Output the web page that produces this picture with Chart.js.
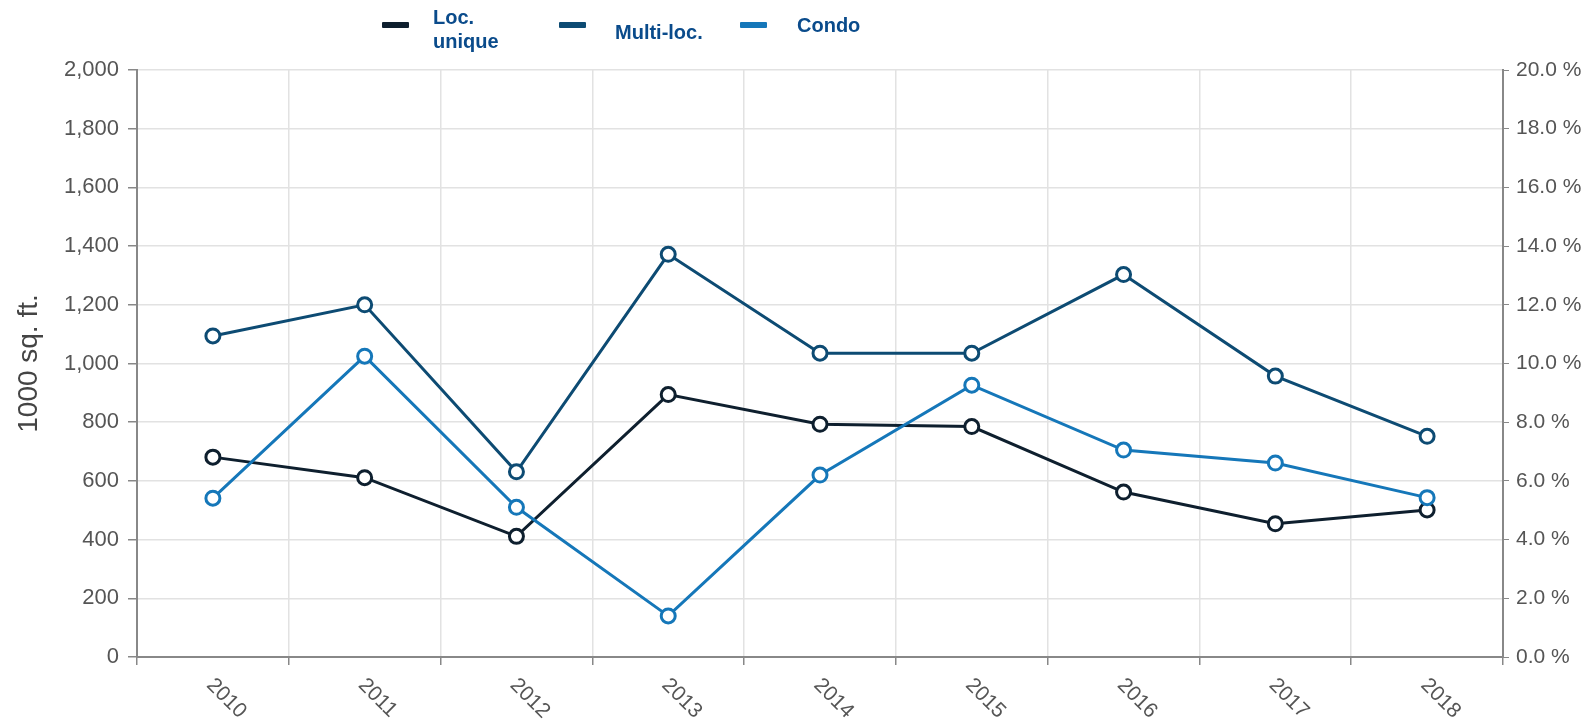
<!DOCTYPE html>
<html>
<head>
<meta charset="utf-8">
<script src="https://cdn.jsdelivr.net/npm/chart.js@4/dist/chart.umd.min.js"></script>
<style>
  html, body { margin: 0; padding: 0; background: #fff; }
  #wrap { position: relative; width: 1590px; height: 726px; font-family: "Liberation Sans", Arial, sans-serif; }
  #chart { position: absolute; left: 0; top: 0; }
  .lg-line { position: absolute; height: 6px; width: 27px; border-radius: 1px; }
  .lg-text { position: absolute; font-weight: bold; font-size: 20px; line-height: 24px; color: #0a4b8b; }
</style>
</head>
<body>
<div id="wrap">
  <canvas id="chart" width="1590" height="726"></canvas>
  <div id="legend"></div>
</div>
<script>
// data
const years = ['2010', '2011', '2012', '2013', '2014', '2015', '2016', '2017', '2018'];
const locUnique = [681, 611, 411, 894, 793, 785, 562, 454, 501];
const multiLoc = [1094, 1200, 631, 1372, 1035, 1035, 1303, 957, 752];
const condo = [541, 1025, 510, 140, 620, 926, 705, 661, 543];

const seriesNames = [['Loc.', 'unique'], ['Multi-loc.'], ['Condo']];
const seriesColors = ['#0e1f2e', '#0d4b73', '#1577b9'];

const leftMax = 2000;
const leftStep = 200;
const rightMax = 20;
const rightStep = 2;

// legend (html, fixed spots like the original)
const legendSpots = [
    { line: [382, 22], text: [433, 5] },
    { line: [559, 22], text: [615, 20] },
    { line: [740, 22], text: [797, 13] }
];
let lg = '';
seriesNames.forEach((name, i) => {
    const s = legendSpots[i];
    lg += `<div class="lg-line" style="left:${s.line[0]}px;top:${s.line[1]}px;background:${seriesColors[i]}"></div>`;
    lg += `<div class="lg-text" style="left:${s.text[0]}px;top:${s.text[1]}px">${name.join('<br>')}</div>`;
});
document.getElementById('legend').innerHTML = lg;

const xLabels = {
    id: 'xLabels',
    afterDraw(chart) {
        const sc = chart.scales.x;
        const ctx = chart.ctx;
        ctx.save();
        ctx.font = '21px "Liberation Sans", Arial, sans-serif';
        ctx.fillStyle = '#555';
        ctx.textAlign = 'left';
        ctx.textBaseline = 'middle';
        years.forEach((y, i) => {
            ctx.save();
            ctx.translate(sc.getPixelForTick(i) - 3, sc.top + 25);
            ctx.rotate(Math.PI / 4);
            ctx.fillText(y, 0, 0);
            ctx.restore();
        });
        ctx.restore();
    }
};

function makeSet(label, data, color) {
    return {
        label: label,
        data: data,
        borderColor: color,
        backgroundColor: '#fff',
        borderWidth: 3,
        pointRadius: 7,
        pointHoverRadius: 7,
        pointBorderWidth: 3,
        pointBackgroundColor: '#fff',
        pointBorderColor: color,
        tension: 0,
        yAxisID: 'y'
    };
}

new Chart(document.getElementById('chart'), {
    type: 'line',
    data: {
        labels: years,
        datasets: [
            makeSet('Condo', condo, seriesColors[2]),
            makeSet('Multi-loc.', multiLoc, seriesColors[1]),
            makeSet('Loc. unique', locUnique, seriesColors[0])
        ]
    },
    options: {
        responsive: false,
        animation: false,
        layout: { padding: { top: 70, left: 0, right: 0, bottom: 0 } },
        plugins: {
            legend: { display: false },
            tooltip: { enabled: false }
        },
        scales: {
            x: {
                offset: true,
                grid: { offset: true, color: '#e2e2e2', lineWidth: 1.5, tickColor: '#888', tickLength: 8 },
                border: { color: '#888', width: 2 },
                ticks: { color: 'rgba(0,0,0,0)', font: { size: 20 }, maxRotation: 0, autoSkip: false },
                afterFit(s) { s.height = 69; }
            },
            y: {
                position: 'left',
                min: 0,
                max: leftMax,
                grid: { color: '#e2e2e2', lineWidth: 1.5, tickColor: '#888', tickLength: 9 },
                border: { color: '#888', width: 2 },
                ticks: {
                    stepSize: leftStep,
                    color: '#555',
                    padding: 9,
                    font: { size: 22, family: '"Liberation Sans", Arial, sans-serif' },
                    callback: v => v.toLocaleString('en-US')
                },
                title: {
                    display: true,
                    text: '1000 sq. ft.',
                    color: '#444',
                    font: { size: 28, family: '"Liberation Sans", Arial, sans-serif' },
                    padding: { top: 12, bottom: 0 }
                },
                afterFit(s) { s.width = 137; }
            },
            y1: {
                position: 'right',
                min: 0,
                max: rightMax,
                grid: { drawOnChartArea: false, tickColor: '#888', tickLength: 6 },
                border: { color: '#888', width: 2 },
                ticks: {
                    stepSize: rightStep,
                    color: '#555',
                    padding: 7,
                    font: { size: 21, family: '"Liberation Sans", Arial, sans-serif' },
                    callback: v => v.toFixed(1) + ' %'
                },
                afterFit(s) { s.width = 87; }
            }
        }
    },
    plugins: [xLabels]
});
</script>
</body>
</html>
